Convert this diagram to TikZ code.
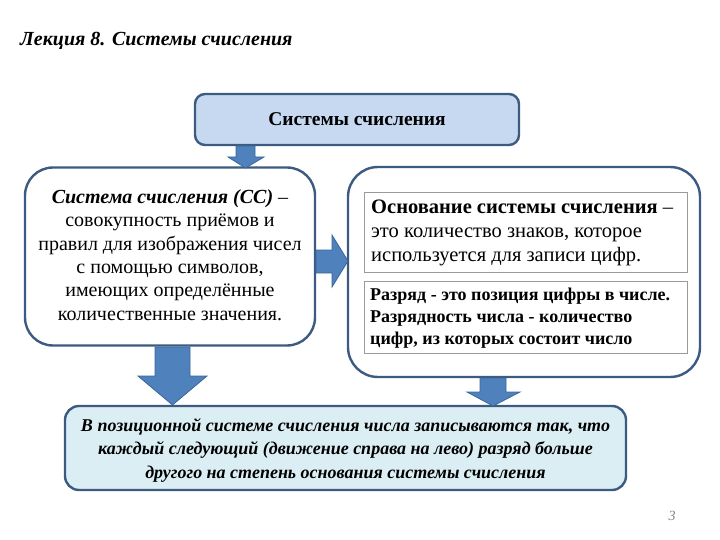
\documentclass[tikz,border=0pt]{standalone}
\usepackage{fontspec}
\setmainfont{Liberation Serif}
\definecolor{boxborder}{HTML}{3D5A80}
\definecolor{topfill}{HTML}{C6D9F1}
\definecolor{botfill}{HTML}{DBEEF4}
\definecolor{arrowfill}{HTML}{4F81BD}
\definecolor{arrowline}{HTML}{3A679A}
\definecolor{innerline}{HTML}{9A9A9A}
\tikzset{
  bigbox/.style={draw=boxborder, line width=2.4pt, fill=white, rectangle, inner sep=0pt},
  innerbox/.style={draw=innerline, line width=0.8pt, fill=white, rectangle, inner sep=0pt},
  blockarrow/.style={fill=arrowfill, draw=arrowline, line width=0.8pt, line join=miter},
}
\begin{document}
\begin{tikzpicture}[x=1pt,y=-1pt]
\useasboundingbox (0,0) rectangle (720,540);
% title
\node[anchor=base west, inner sep=0pt, font=\fontsize{20}{22}\selectfont\bfseries\itshape] (title) at (20,46) {Лекция 8. Системы счисления};
% boxes
\node[bigbox, fill=topfill, rounded corners=10pt, minimum width=324pt, minimum height=51pt,
      font=\fontsize{19.5}{22}\selectfont\bfseries] (top) at (357,119.5) {Системы счисления};
\node[bigbox, rounded corners=28pt, minimum width=290pt, minimum height=178pt] (left) at (170,256.5) {};
\node[align=center, font=\fontsize{20}{23.4}\selectfont, inner sep=0pt] (lefttext) at (170,255) {\textbf{\textit{Система счисления (СС)}} –\\совокупность приёмов и\\правил для изображения чисел\\с помощью символов,\\имеющих определённые\\количественные значения.};
\node[bigbox, rounded corners=30pt, minimum width=352pt, minimum height=210pt] (right) at (524,272) {};
\node[innerbox, minimum width=323pt, minimum height=80pt] (in1) at (525.5,232) {};
\node[anchor=west, align=left, font=\fontsize{20.5}{24}\selectfont, inner sep=0pt] (in1text) at (371,233) {\textbf{Основание системы счисления} –\\это количество знаков, которое\\используется для записи цифр.};
\node[innerbox, minimum width=323pt, minimum height=72pt] (in2) at (525.5,317) {};
\node[anchor=west, align=left, font=\fontsize{18}{22}\selectfont\bfseries, inner sep=0pt] (in2text) at (370,318) {Разряд - это позиция цифры в числе.\\Разрядность числа - количество\\цифр, из которых состоит число};
\node[bigbox, fill=botfill, rounded corners=14pt, minimum width=561pt, minimum height=84pt] (bot) at (345.5,448) {};
\node[align=center, font=\fontsize{18}{23.5}\selectfont\bfseries\itshape, inner sep=0pt] (bottext) at (345.5,450) {В позиционной системе счисления числа записываются так, что\\каждый следующий (движение справа на лево) разряд больше\\другого на степень основания системы счисления};
% page number
\node[font=\fontsize{14}{16}\selectfont\itshape, text=gray, inner sep=0pt] (pnum) at (672,516) {3};
% block arrows
\draw[blockarrow] (236,146) -- (236,157) -- (228,157) -- (245.5,168) -- (264,157) -- (255,157) -- (255,146) -- cycle;
\draw[blockarrow] (316,250) -- (332,250) -- (332,235) -- (348,261) -- (332,287) -- (332,273) -- (316,273) -- cycle;
\draw[blockarrow] (155,347) -- (155,376) -- (138,376) -- (172.5,405) -- (207,376) -- (190,376) -- (190,347) -- cycle;
\draw[blockarrow] (480,378) -- (480,392) -- (467,392) -- (493,406) -- (520,392) -- (506,392) -- (506,378) -- cycle;
\end{tikzpicture}
\end{document}
